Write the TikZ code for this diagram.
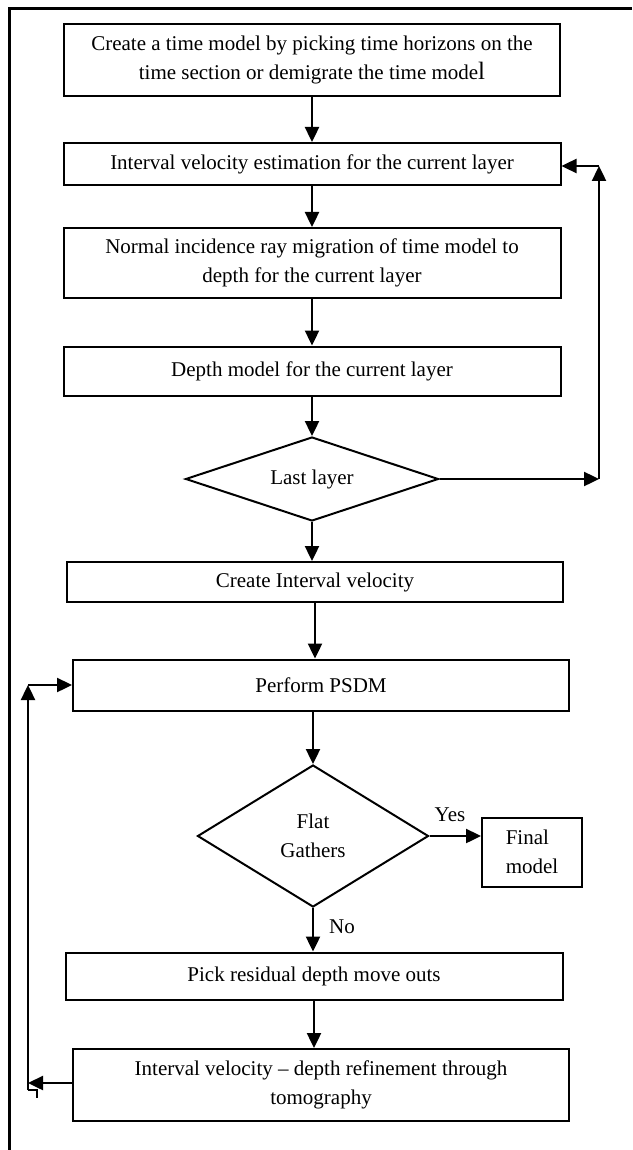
\documentclass[tikz,border=0pt]{standalone}
\usepackage{fontspec}
\setmainfont{Liberation Serif}
\usetikzlibrary{shapes.geometric,arrows.meta}
\begin{document}
\begin{tikzpicture}[x=1pt,y=-1pt,
  every node/.style={font=\fontsize{21}{29}\selectfont},
  box/.style={draw,line width=2pt,inner sep=0pt,align=center},
  dec/.style={draw,shape=diamond,line width=2pt,inner sep=0pt,align=center},
  arr/.style={line width=2.4pt,-{Triangle[length=15pt,width=14pt]}},
  thin line/.style={line width=2pt}]
\useasboundingbox (0,0) rectangle (632,1150);
\draw[line width=3pt] (632,9) -- (9,9) -- (9,1150);

\node[box,minimum width=496pt,minimum height=72pt] (b1) at (312,60)
  {Create a time model by picking time horizons on the\\time section or demigrate the time mode{\fontsize{25}{29}\selectfont l}};
\node[box,minimum width=497pt,minimum height=42pt] (b2) at (312,164)
  {Interval velocity estimation for the current layer};
\node[box,minimum width=497pt,minimum height=70pt] (b3) at (312,263)
  {Normal incidence ray migration of time model to\\depth for the current layer};
\node[box,minimum width=497pt,minimum height=49pt] (b4) at (312,371)
  {Depth model for the current layer};
\node[dec,minimum width=253pt,minimum height=84pt,aspect=3] (d1) at (312,479)
  {Last layer};
\node[box,minimum width=496pt,minimum height=40pt] (b5) at (315,582)
  {Create Interval velocity};
\node[box,minimum width=496pt,minimum height=51pt] (b6) at (321,685)
  {Perform PSDM};
\node[dec,minimum width=231pt,minimum height=142pt,aspect=1.63] (d2) at (313,836)
  {Flat\\Gathers};
\node[box,minimum width=100pt,minimum height=69pt,align=left] (fin) at (532,852)
  {Final\\model};
\node[box,minimum width=497pt,minimum height=47pt] (b7) at (314,976)
  {Pick residual depth move outs};
\node[box,minimum width=496pt,minimum height=72pt] (b8) at (321,1085)
  {Interval velocity -- depth refinement through\\tomography};

\node (yes) at (450,815) {Yes};
\node (no) at (342,927) {No};

% main column
\draw[arr] (b1.south) -- (b2.north);
\draw[arr] (b2.south) -- (b3.north);
\draw[arr] (b3.south) -- (b4.north);
\draw[arr] (b4.south) -- (d1.north);
\draw[arr] (d1.south) -- (d1.south |- b5.north);
\draw[arr] (b5.south) -- (b5.south |- b6.north);
\draw[arr] (b6.south -| d2.north) -- (d2.north);
\draw[arr] (d2.south) -- (d2.south |- b7.north);
\draw[arr] (b7.south) -- (b7.south |- b8.north);
\draw[arr] (d2.east) -- (d2.east -| fin.west);

% right loop
\coordinate (r1) at (599,479);
\coordinate (r2) at (599,166);
\draw[arr] (d1.east) -- (r1);
\draw[arr] (r1) -- (r2);
\draw[arr] (r2) -- (r2 -| b2.east);

% left loop
\coordinate (l0) at (28,1090);
\coordinate (l1) at (28,1083);
\coordinate (l2) at (28,685);
\draw[arr] (b8.west |- l1) -- (l1);
\draw[arr] (l0) -- (l2);
\draw[arr] (l2) -- (l2 -| b6.west);
\draw[thin line] (l0) -- ++(9,0) -- ++(0,8);
\end{tikzpicture}
\end{document}
